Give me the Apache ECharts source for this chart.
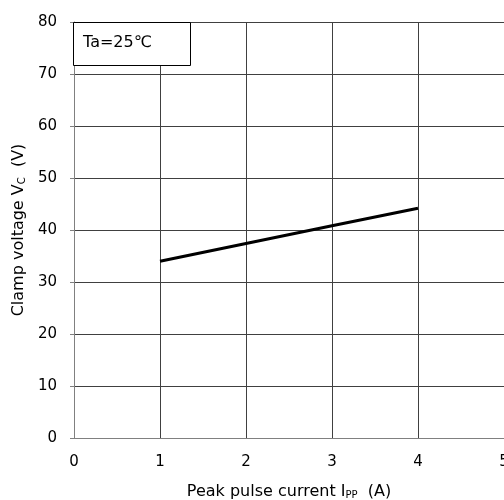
<!DOCTYPE html>
<html>
<head>
<meta charset="utf-8">
<title>Clamp voltage</title>
<script src="https://cdn.jsdelivr.net/npm/echarts@6/dist/echarts.min.js"></script>
<style>
	*{ margin:0; padding:0; }
	#chart{ width:504px; height:500px; background:#fff; }
</style>
</head>
<body>
<div id="chart"></div>
<script>
// data
var currentA = [1, 2, 3, 4];
var clampV = [34.0, 37.4, 40.8, 44.2];
var xTicks = [0, 1, 2, 3, 4, 5];
var yTicks = [0, 10, 20, 30, 40, 50, 60, 70, 80];

var myChart = echarts.init(document.getElementById('chart'));
var font = '"DejaVu Sans", Verdana, sans-serif';
var subStyle = { fontSize: 10, verticalAlign: 'bottom', padding: [7, 0, 0, 0], fontFamily: font, color: '#000' };

var option = {
	animation: false,
	backgroundColor: '#fff',
	grid: { left: 74, right: 0, top: 22, bottom: 62, outerBoundsMode: 'none' },
	graphic: [
		{ type: 'rect', left: 73, top: 22, z: 10,
		  shape: { width: 117, height: 43 },
		  style: { fill: '#fff', stroke: '#000', lineWidth: 1 } },
		{ type: 'text', left: 83, top: 35, z: 11,
		  style: { text: 'Ta=25\u2103', fontFamily: font, fontSize: 16, fill: '#000' } }
	],
	xAxis: {
		type: 'value', min: 0, max: 5, interval: 1,
		name: 'Peak pulse current I{s|PP}  (A)',
		nameLocation: 'middle', nameGap: 45,
		nameTextStyle: { fontFamily: font, fontSize: 16, color: '#000', rich: { s: subStyle } },
		axisLine: { show: true, lineStyle: { color: '#808080' } },
		axisTick: { show: false },
		axisLabel: { margin: 17, fontFamily: font, fontSize: 15, color: '#000',
			formatter: function (v) { return xTicks.indexOf(v) >= 0 ? v : ''; } },
		splitLine: { show: true, lineStyle: { color: '#404040', width: 1 } }
	},
	yAxis: {
		type: 'value', min: 0, max: 80, interval: 10,
		name: 'Clamp voltage V{s|C}  (V)',
		nameLocation: 'middle', nameGap: 44,
		nameTextStyle: { fontFamily: font, fontSize: 16, color: '#000', rich: { s: subStyle } },
		axisLine: { show: true, lineStyle: { color: '#808080' } },
		axisTick: { show: true, inside: false, length: 4, lineStyle: { color: '#808080' } },
		axisLabel: { margin: 17, fontFamily: font, fontSize: 15, color: '#000',
			formatter: function (v) { return yTicks.indexOf(v) >= 0 ? v : ''; } },
		splitLine: { show: true, lineStyle: { color: '#404040', width: 1 } }
	},
	series: [{
		type: 'line',
		data: currentA.map(function (x, i) { return [x, clampV[i]]; }),
		showSymbol: false,
		lineStyle: { color: '#000', width: 3 },
		z: 3
	}]
};

myChart.setOption(option);
</script>
</body>
</html>
